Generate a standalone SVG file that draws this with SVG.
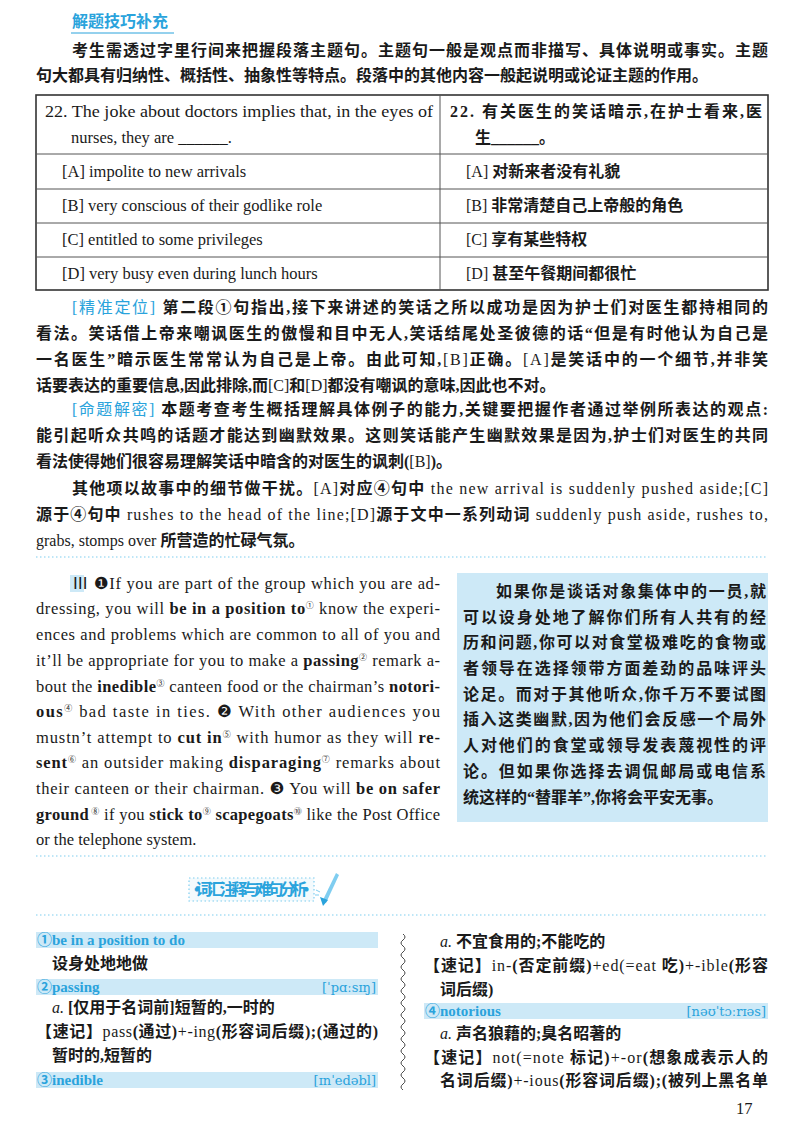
<svg xmlns="http://www.w3.org/2000/svg" width="800" height="1132" viewBox="0 0 800 1132">
<style>
.cn{font-family:"Liberation Serif","Noto Sans CJK SC",serif;font-size:16px;font-weight:bold;fill:#1a1a1a}
.en{font-family:"Liberation Serif","Noto Sans CJK SC",serif;font-weight:normal}
.p{font-family:"Liberation Serif","Noto Sans CJK SC",serif;font-size:16.5px;fill:#1a1a1a}
.b{font-weight:bold}
.blue{fill:#2aa3dc}
.sup{font-size:8px}
.cell{fill:none;stroke:#555;stroke-width:1}
.bar{fill:#cde9f7}
.dot{stroke:#7fcdf0;stroke-width:1.2;stroke-dasharray:1.5 2.5;fill:none}
.vh{font-family:"Liberation Serif","Noto Sans CJK SC",serif;font-size:15px;font-weight:bold;fill:#2aa3dc}
.ph{font-family:"DejaVu Serif","Liberation Serif",serif;font-size:13px;fill:#2aa3dc}
</style>
<rect width="800" height="1132" fill="#fff"/>
<text x="72" y="27" class="cn blue" font-size="15">解题技巧补充</text>
<line x1="71" y1="33" x2="174" y2="33" stroke="#2aa3dc" stroke-width="1"/>
<text x="72" y="56" class="cn" textLength="696" lengthAdjust="spacing">考生需透过字里行间来把握段落主题句。主题句一般是观点而非描写、具体说明或事实。主题</text>
<text x="36" y="81" class="cn">句大都具有归纳性、概括性、抽象性等特点。段落中的其他内容一般起说明或论证主题的作用。</text>
<g id="table">
<rect x="36" y="95" width="732" height="195" fill="none" stroke="#333" stroke-width="1.6"/>
<line class="cell" x1="440" y1="95" x2="440" y2="290"/>
<line class="cell" x1="36" y1="154" x2="768" y2="154"/>
<line class="cell" x1="36" y1="189" x2="768" y2="189"/>
<line class="cell" x1="36" y1="223" x2="768" y2="223"/>
<line class="cell" x1="36" y1="257" x2="768" y2="257"/>
<text x="45" y="117" class="p" textLength="388" lengthAdjust="spacingAndGlyphs">22. The joke about doctors implies that, in the eyes of</text>
<text x="71" y="143" class="p">nurses, they are ______.</text>
<text x="450" y="117" class="cn" textLength="312" lengthAdjust="spacing">22. 有关医生的笑话暗示,在护士看来,医</text>
<text x="475" y="143" class="cn">生______。</text>
<text x="62" y="177" class="p">[A] impolite to new arrivals</text>
<text x="62" y="211" class="p">[B] very conscious of their godlike role</text>
<text x="62" y="245" class="p">[C] entitled to some privileges</text>
<text x="62" y="279" class="p">[D] very busy even during lunch hours</text>
<text x="466" y="177" class="cn"><tspan class="en">[A]</tspan> 对新来者没有礼貌</text>
<text x="466" y="211" class="cn"><tspan class="en">[B]</tspan> 非常清楚自己上帝般的角色</text>
<text x="466" y="245" class="cn"><tspan class="en">[C]</tspan> 享有某些特权</text>
<text x="466" y="279" class="cn"><tspan class="en">[D]</tspan> 甚至午餐期间都很忙</text>
</g>
<text x="72" y="313" class="cn" textLength="696" lengthAdjust="spacing"><tspan class="blue en">[精准定位]</tspan> 第二段①句指出,接下来讲述的笑话之所以成功是因为护士们对医生都持相同的</text>
<text x="36" y="339" class="cn" textLength="732" lengthAdjust="spacing">看法。笑话借上帝来嘲讽医生的傲慢和目中无人,笑话结尾处圣彼德的话“但是有时他认为自己是</text>
<text x="36" y="365" class="cn" textLength="732" lengthAdjust="spacing">一名医生”暗示医生常常认为自己是上帝。由此可知,<tspan class="en">[B]</tspan>正确。<tspan class="en">[A]</tspan>是笑话中的一个细节,并非笑</text>
<text x="36" y="391" class="cn">话要表达的重要信息,因此排除,而<tspan class="en">[C]</tspan>和<tspan class="en">[D]</tspan>都没有嘲讽的意味,因此也不对。</text>
<text x="72" y="415" class="cn" textLength="696" lengthAdjust="spacing"><tspan class="blue en">[命题解密]</tspan> 本题考查考生概括理解具体例子的能力,关键要把握作者通过举例所表达的观点:</text>
<text x="36" y="441" class="cn" textLength="732" lengthAdjust="spacing">能引起听众共鸣的话题才能达到幽默效果。这则笑话能产生幽默效果是因为,护士们对医生的共同</text>
<text x="36" y="467" class="cn">看法使得她们很容易理解笑话中暗含的对医生的讽刺(<tspan class="en">[B]</tspan>)。</text>
<text x="72" y="494" class="cn" textLength="696" lengthAdjust="spacing">其他项以故事中的细节做干扰。<tspan class="en">[A]</tspan>对应④句中<tspan class="en"> the new arrival is suddenly pushed aside;[C]</tspan></text>
<text x="36" y="520" class="cn" textLength="732" lengthAdjust="spacing">源于④句中<tspan class="en"> rushes to the head of the line;[D]</tspan>源于文中一系列动词<tspan class="en"> suddenly push aside, rushes to,</tspan></text>
<text x="36" y="546" class="cn"><tspan class="en">grabs, stomps over </tspan>所营造的忙碌气氛。</text>
<line class="dot" x1="36" y1="557" x2="768" y2="557"/>
<g id="passage">
<rect x="70" y="575" width="14" height="17" fill="#cde9f7"/>
<text x="72" y="589" class="p" textLength="368" lengthAdjust="spacing">Ⅲ <tspan font-family="DejaVu Sans">❶</tspan>If you are part of the group which you are ad-</text>
<text x="36" y="614" class="p" textLength="404" lengthAdjust="spacing">dressing, you will <tspan class="b">be in a position to</tspan><tspan class="sup" dy="-6">①</tspan><tspan dy="6"> know the experi-</tspan></text>
<text x="36" y="640" class="p" textLength="404" lengthAdjust="spacing">ences and problems which are common to all of you and</text>
<text x="36" y="666" class="p" textLength="404" lengthAdjust="spacing">it’ll be appropriate for you to make a <tspan class="b">passing</tspan><tspan class="sup" dy="-6">②</tspan><tspan dy="6"> remark a-</tspan></text>
<text x="36" y="692" class="p" textLength="404" lengthAdjust="spacing">bout the <tspan class="b">inedible</tspan><tspan class="sup" dy="-6">③</tspan><tspan dy="6"> canteen food or the chairman’s </tspan><tspan class="b">notori-</tspan></text>
<text x="36" y="717" class="p" textLength="404" lengthAdjust="spacing"><tspan class="b">ous</tspan><tspan class="sup" dy="-6">④</tspan><tspan dy="6"> bad taste in ties. </tspan><tspan font-family="DejaVu Sans">❷</tspan> With other audiences you</text>
<text x="36" y="743" class="p" textLength="404" lengthAdjust="spacing">mustn’t attempt to <tspan class="b">cut in</tspan><tspan class="sup" dy="-6">⑤</tspan><tspan dy="6"> with humor as they will </tspan><tspan class="b">re-</tspan></text>
<text x="36" y="768" class="p" textLength="404" lengthAdjust="spacing"><tspan class="b">sent</tspan><tspan class="sup" dy="-6">⑥</tspan><tspan dy="6"> an outsider making </tspan><tspan class="b">disparaging</tspan><tspan class="sup" dy="-6">⑦</tspan><tspan dy="6"> remarks about</tspan></text>
<text x="36" y="794" class="p" textLength="404" lengthAdjust="spacing">their canteen or their chairman. <tspan font-family="DejaVu Sans">❸</tspan> You will <tspan class="b">be on safer</tspan></text>
<text x="36" y="820" class="p" textLength="404" lengthAdjust="spacing"><tspan class="b">ground</tspan><tspan class="sup" dy="-6"> ⑧</tspan><tspan dy="6"> if you </tspan><tspan class="b">stick to</tspan><tspan class="sup" dy="-6">⑨</tspan><tspan dy="6"> </tspan><tspan class="b">scapegoats</tspan><tspan class="sup" dy="-6">⑩</tspan><tspan dy="6"> like the Post Office</tspan></text>
<text x="36" y="845" class="p">or the telephone system.</text>
</g>
<g id="translation">
<rect x="457" y="573" width="311" height="249" fill="#cde9f7"/>
<g class="cn">
<text x="496" y="597" textLength="270" lengthAdjust="spacing">如果你是谈话对象集体中的一员,就</text>
<text x="463" y="623" textLength="303" lengthAdjust="spacing">可以设身处地了解你们所有人共有的经</text>
<text x="463" y="648" textLength="303" lengthAdjust="spacing">历和问题,你可以对食堂极难吃的食物或</text>
<text x="463" y="674" textLength="303" lengthAdjust="spacing">者领导在选择领带方面差劲的品味评头</text>
<text x="463" y="700" textLength="303" lengthAdjust="spacing">论足。而对于其他听众,你千万不要试图</text>
<text x="463" y="725" textLength="303" lengthAdjust="spacing">插入这类幽默,因为他们会反感一个局外</text>
<text x="463" y="751" textLength="303" lengthAdjust="spacing">人对他们的食堂或领导发表蔑视性的评</text>
<text x="463" y="777" textLength="303" lengthAdjust="spacing">论。但如果你选择去调侃邮局或电信系</text>
<text x="463" y="803">统这样的“替罪羊”,你将会平安无事。</text>
</g>
</g>
<line class="dot" x1="36" y1="856" x2="768" y2="856"/>
<g id="title">
<rect x="189" y="878" width="125" height="23" style="fill:#f3fafd;stroke:#7fcdf0;stroke-width:1.2;stroke-dasharray:1.5 2.5"/>
<text x="251.5" y="894.5" class="cn blue" font-size="12.5" text-anchor="middle" textLength="115" lengthAdjust="spacing">• 词汇注释与难句分析 •</text>
<path d="M322 902 L336 873 L339 875 L326 903 Z" fill="#7fcdf0"/>
<path d="M320 897 L328 900 L323 906 Z" fill="#2aa3dc"/>
<path d="M316 890 l4 2 M315 895 l4 0" stroke="#7fcdf0" stroke-width="1"/>
</g>
<line class="dot" x1="36" y1="915" x2="768" y2="915"/>
<g id="vocab">
<rect class="bar" x="36" y="932" width="342" height="16"/>
<text x="37" y="945" class="vh">①be in a position to do</text>
<text x="52" y="969" class="cn">设身处地地做</text>
<rect class="bar" x="36" y="979" width="342" height="16"/>
<text x="37" y="992" class="vh">②passing</text>
<text x="376" y="992" class="ph" text-anchor="end">[ˈpɑːsɪŋ]</text>
<text x="52" y="1013" class="cn"><tspan class="en" font-style="italic">a.</tspan> [仅用于名词前]短暂的,一时的</text>
<text x="36" y="1037" class="cn" textLength="342" lengthAdjust="spacing">【速记】<tspan class="en">pass</tspan>(通过)<tspan class="en">+-ing</tspan>(形容词后缀);(通过的)</text>
<text x="52" y="1061" class="cn">暂时的,短暂的</text>
<rect class="bar" x="36" y="1072" width="342" height="16"/>
<text x="37" y="1085" class="vh">③inedible</text>
<text x="376" y="1085" class="ph" text-anchor="end">[ɪnˈedəbl]</text>
<path d="M403 934 q4 3 0 6 q-4 3 0 6 q4 3 0 6 q-4 3 0 6 q4 3 0 6 q-4 3 0 6 q4 3 0 6 q-4 3 0 6 q4 3 0 6 q-4 3 0 6 q4 3 0 6 q-4 3 0 6 q4 3 0 6 q-4 3 0 6 q4 3 0 6 q-4 3 0 6 q4 3 0 6 q-4 3 0 6 q4 3 0 6 q-4 3 0 6 q4 3 0 6 q-4 3 0 6 q4 3 0 6 q-4 3 0 6 q4 3 0 6 q-4 3 0 6" fill="none" stroke="#333" stroke-width="0.9"/>
<text x="440" y="947" class="cn"><tspan class="en" font-style="italic">a.</tspan> 不宜食用的;不能吃的</text>
<text x="424" y="971" class="cn" textLength="344" lengthAdjust="spacing">【速记】<tspan class="en">in-</tspan>(否定前缀)<tspan class="en">+ed(=eat </tspan>吃)<tspan class="en">+-ible</tspan>(形容</text>
<text x="440" y="995" class="cn">词后缀)</text>
<rect class="bar" x="424" y="1003" width="344" height="16"/>
<text x="425" y="1016" class="vh">④notorious</text>
<text x="766" y="1016" class="ph" text-anchor="end">[nəʊˈtɔːrɪəs]</text>
<text x="440" y="1039" class="cn"><tspan class="en" font-style="italic">a.</tspan> 声名狼藉的;臭名昭著的</text>
<text x="424" y="1063" class="cn" textLength="344" lengthAdjust="spacing">【速记】<tspan class="en">not(=note </tspan>标记)<tspan class="en">+-or</tspan>(想象成表示人的</text>
<text x="440" y="1086" class="cn" textLength="328" lengthAdjust="spacing">名词后缀)<tspan class="en">+-ious</tspan>(形容词后缀);(被列上黑名单</text>
</g>
<text x="736" y="1114" class="p" font-size="17">17</text>
</svg>
